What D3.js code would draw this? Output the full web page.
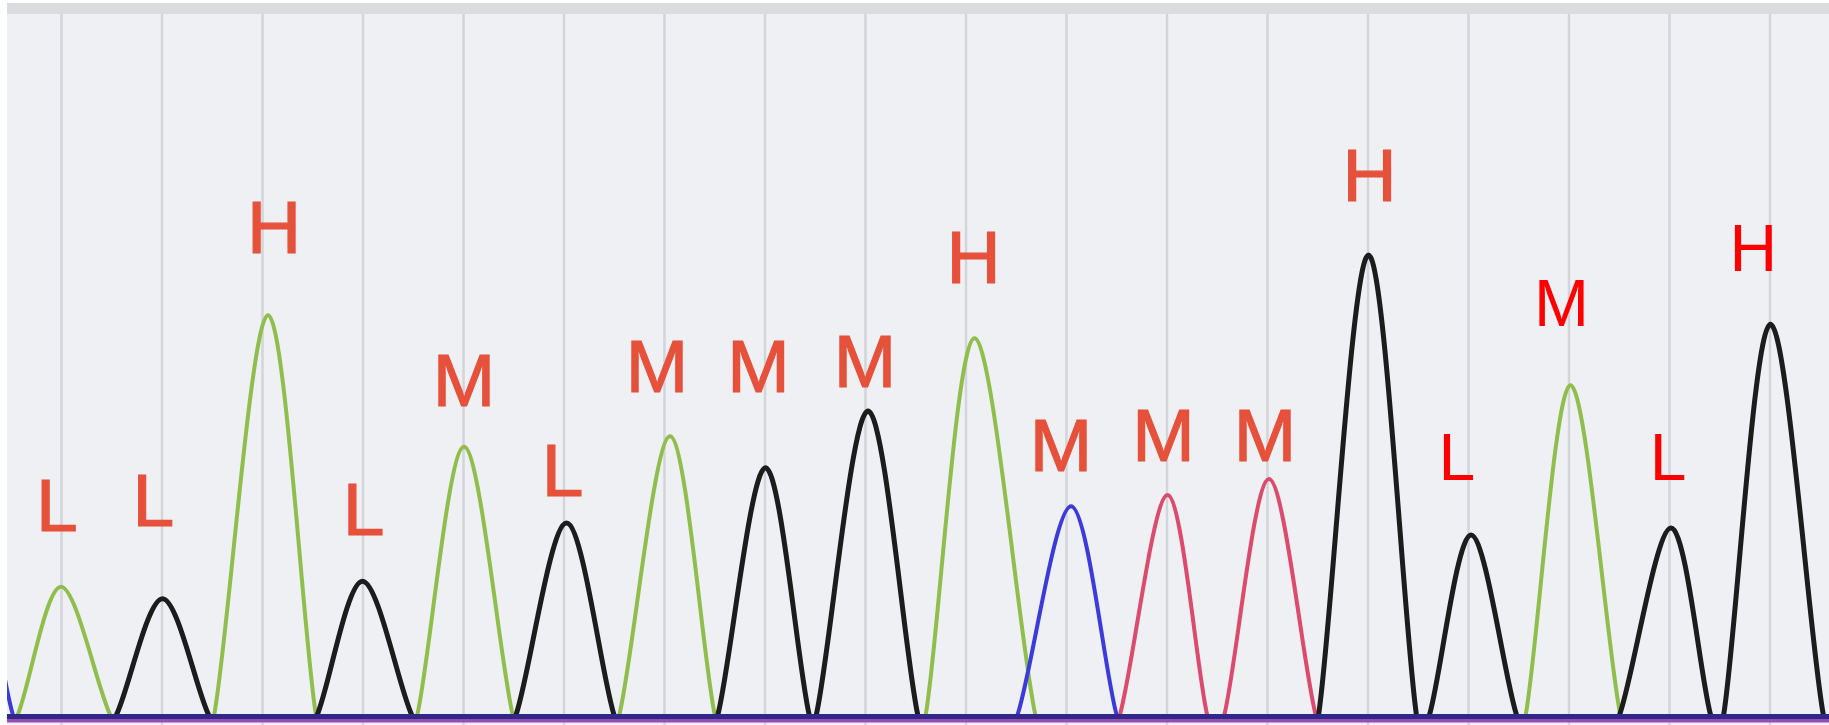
<!DOCTYPE html>
<html>
<head>
<meta charset="utf-8">
<script src="https://cdn.jsdelivr.net/npm/d3@7"></script>
<style>
body { margin: 0; background: #fff; }
svg { display: block; }
</style>
</head>
<body>
<div id="chart"></div>
<script>
// trace peaks, x in base positions, height in signal units
// first peak is the tail of a C peak cut off at the left edge
const peakBase   = ['C','A','G','A','G','A','G','A','G','G','A','C','T','T','G','G','A','G','G']
const peakPos    = [-0.80, 0.00, 1.01, 2.06, 3.00, 4.01, 5.03, 6.06, 7.01, 8.03, 9.09, 10.05, 11.01, 12.02, 13.01, 14.03, 15.02, 16.02, 17.01]
const peakStart  = [-1.30, -0.44, 0.54, 1.52, 2.54, 3.54, 4.52, 5.55, 6.53, 7.51, 8.60, 9.51, 10.53, 11.57, 12.51, 13.61, 14.57, 15.50, 16.54]
const peakEnd    = [-0.47, 0.50, 1.48, 2.54, 3.50, 4.50, 5.51, 6.51, 7.45, 8.53, 9.70, 10.51, 11.41, 12.49, 13.49, 14.49, 15.52, 16.42, 17.54]
const peakHeight = [170, 186, 169, 574, 194, 386, 277, 401, 356, 437, 541, 301, 317, 340, 660, 260, 474, 270, 561]

// L / M / H calls written over the peaks
const calls = ['L','L','H','L','M','L','M','M','M','H','M','M','M','H','L','M','L','H']
const callX = [-0.04, 0.92, 2.12, 3.01, 4.01, 4.99, 5.93, 6.94, 8.00, 9.08, 9.95, 10.97, 11.98, 13.02, 13.89, 14.93, 15.99, 16.84]
const callY = [266, 273, 663, 260, 444, 316, 464, 464, 471, 620, 351, 366, 366, 737, 339, 559, 339, 637]
const lateCalls = 14   // calls from here on were typed in later, plain red

const baseColor = {A: '#8fbe4c', C: '#3b3bdc', G: '#1c1c1c', T: '#dc4a6c'}
const baseWidth = {A: 4, C: 4, G: 5, T: 4}

let w = 1829, h = 725

let svg = d3.select('#chart').append('svg').attr('width', w).attr('height', h)

svg.append('rect').attr('x', 7).attr('y', 3).attr('width', w - 7).attr('height', h - 3).attr('fill', '#eff0f4')
svg.append('rect').attr('x', 7).attr('y', 3).attr('width', w - 7).attr('height', 11).attr('fill', '#dadce0')

let x = d3.scaleLinear().domain([0, 17]).range([61, 1769.5])
let y = d3.scaleLinear().domain([0, 1000]).range([717, 17])

// traces are cut where the baseline starts
svg.append('clipPath').attr('id', 'plot')
  .append('rect').attr('x', 7).attr('y', 3).attr('width', w - 7).attr('height', y(0) - 6)

// one grid line per base position
let grid = svg.append('g')
  .attr('transform', `translate(0,${h})`)
  .call(d3.axisBottom(x).tickValues(d3.range(18)).tickSize(-(h - 14)).tickFormat(''))
grid.select('.domain').remove()
grid.selectAll('.tick line').attr('stroke', '#d3d5da').attr('stroke-width', 2.5)

let plot = svg.append('g').attr('clip-path', 'url(#plot)')

let line = d3.line()
  .x(d => x(d[0]))
  .y(d => y(d[1]))
  .curve(d3.curveCardinal.tension(0))

// a flat run of baseline either side of each peak gives the bell its soft feet
let peaks = peakPos.map((p, i) => {
  let l = peakStart[i], r = peakEnd[i]
  return {
    base: peakBase[i],
    pts: [[l - (p - l) / 2, 0], [l, 0], [p, peakHeight[i]], [r, 0], [r + (r - p) / 2, 0]]
  }
})

plot.selectAll('path.peak').data(peaks).enter().append('path')
  .attr('class', 'peak')
  .attr('d', d => line(d.pts))
  .attr('fill', 'none')
  .attr('stroke', d => baseColor[d.base])
  .attr('stroke-width', d => baseWidth[d.base])
  .attr('stroke-linejoin', 'round')

// flat baseline where all four channels sit on top of each other
svg.append('line')
  .attr('x1', 7).attr('x2', w)
  .attr('y1', y(0) + 3.5).attr('y2', y(0) + 3.5)
  .attr('stroke', '#9550ad').attr('stroke-width', 4)
svg.append('line')
  .attr('x1', 7).attr('x2', w)
  .attr('y1', y(0) - 0.5).attr('y2', y(0) - 0.5)
  .attr('stroke', '#32268a').attr('stroke-width', 5)

svg.selectAll('text.call').data(calls).enter().append('text')
  .attr('class', 'call')
  .attr('x', (d, i) => x(callX[i]))
  .attr('y', (d, i) => y(callY[i]))
  .attr('text-anchor', 'middle')
  .attr('font-family', '"Liberation Sans", Arial, sans-serif')
  .attr('font-size', (d, i) => i >= lateCalls ? 66 : 75)
  .attr('fill', (d, i) => i >= lateCalls ? '#ff0000' : '#e6513b')
  .attr('stroke', (d, i) => i >= lateCalls ? 'none' : '#e6513b')
  .attr('stroke-width', 1.2)
  .text(d => d)
</script>
</body>
</html>
